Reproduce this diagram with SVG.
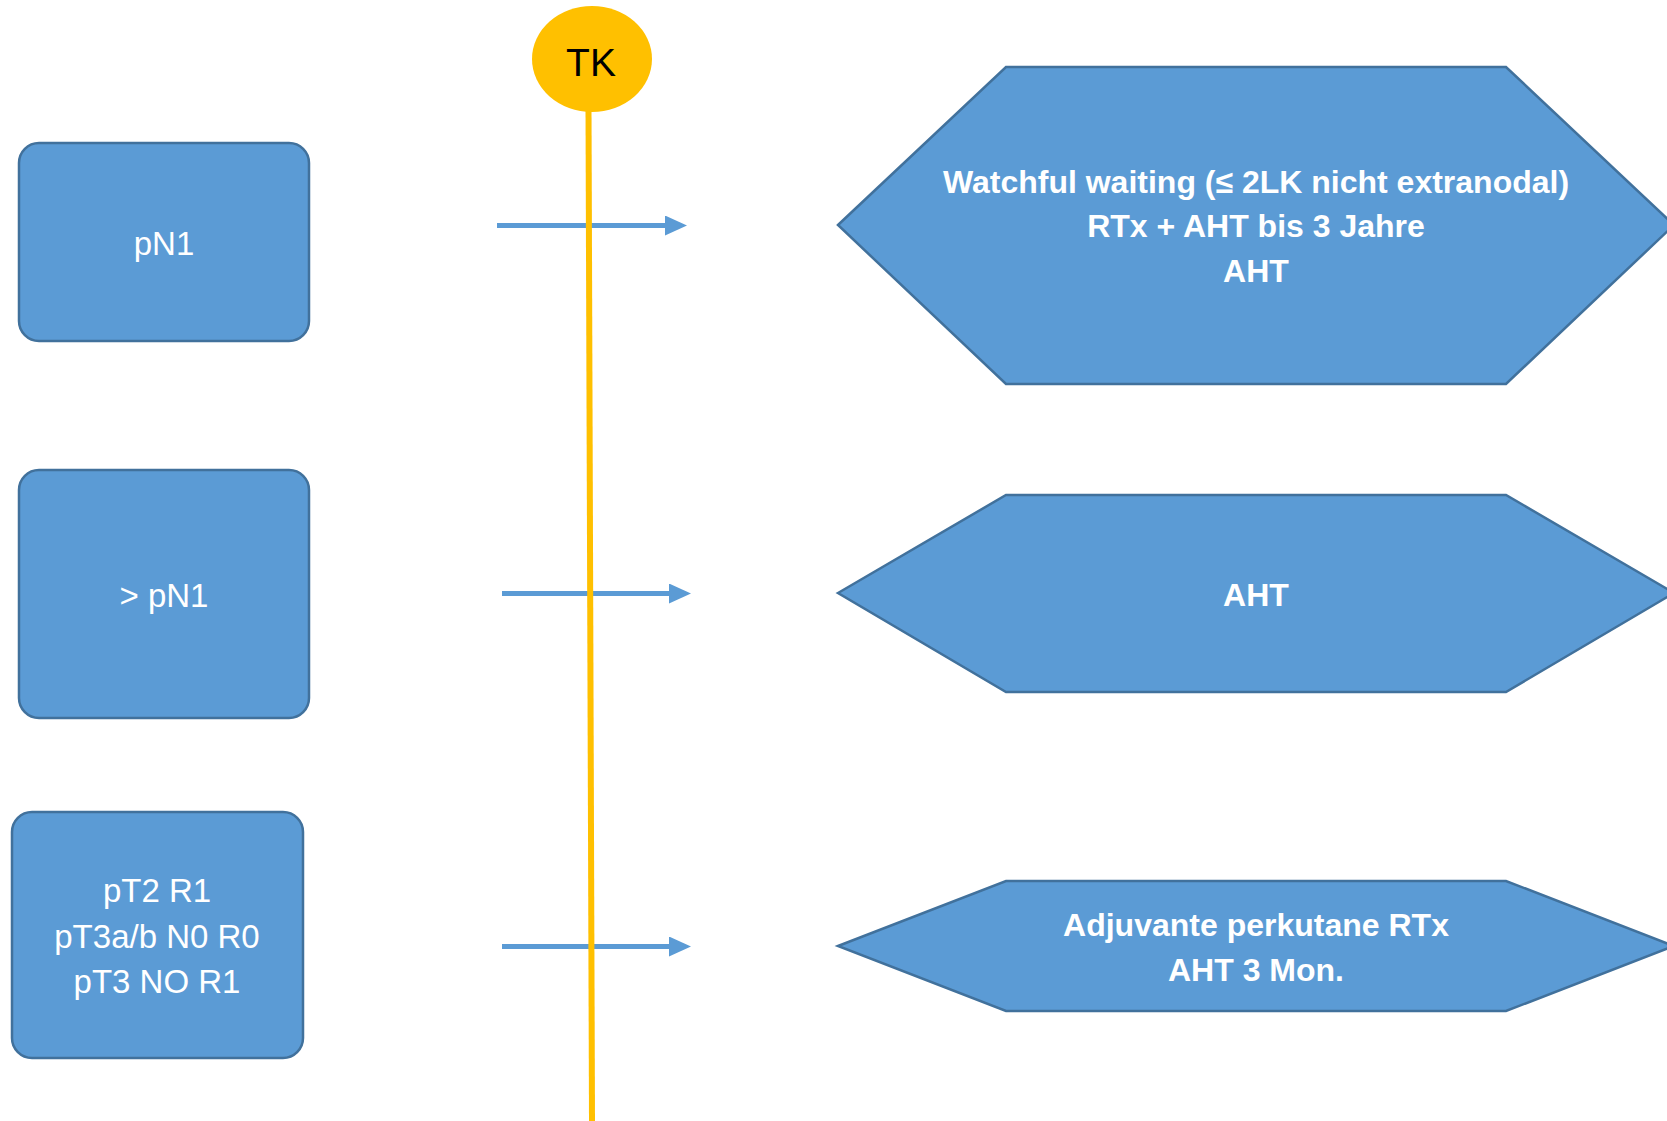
<svg xmlns="http://www.w3.org/2000/svg" width="1667" height="1121" viewBox="0 0 1667 1121">
<style>
.box{fill:#5B9BD5;stroke:#41719C;stroke-width:2.5}
.lbl{font-family:"Liberation Sans",Arial,sans-serif;fill:#FFFFFF;text-anchor:middle}
.reg{font-size:33px}
.bold{font-size:32px;font-weight:bold}
.arrow{stroke:#5B9BD5;stroke-width:5;fill:none}
</style>
<defs>
<marker id="ah" markerUnits="userSpaceOnUse" markerWidth="22" markerHeight="20" refX="1" refY="10" orient="auto">
<path d="M0,0 L22,10 L0,20 Z" fill="#5B9BD5"/>
</marker>
</defs>
<rect width="1667" height="1121" fill="#FFFFFF"/>
<g id="connectors">
<line class="arrow" x1="497" y1="225.5" x2="666" y2="225.5" marker-end="url(#ah)"/>
<line class="arrow" x1="502" y1="593.5" x2="670" y2="593.5" marker-end="url(#ah)"/>
<line class="arrow" x1="502" y1="946.5" x2="670" y2="946.5" marker-end="url(#ah)"/>
<line x1="588.5" y1="108" x2="592" y2="1121" stroke="#FFC000" stroke-width="6"/>
</g>
<g id="tk">
<ellipse cx="592" cy="59" rx="60" ry="53" fill="#FFC000"/>
<text x="591" y="76" font-family="'Liberation Sans',Arial,sans-serif" font-size="39" fill="#000000" text-anchor="middle">TK</text>
</g>
<g id="pN1">
<rect class="box" x="19" y="143" width="290" height="198" rx="20"/>
<text class="lbl reg" x="164" y="255">pN1</text>
</g>
<g id="gt-pN1">
<rect class="box" x="19" y="470" width="290" height="248" rx="20"/>
<text class="lbl reg" x="164" y="607">&gt; pN1</text>
</g>
<g id="pT">
<rect class="box" x="12" y="812" width="291" height="246" rx="20"/>
<text class="lbl reg" x="157" y="902">pT2 R1</text>
<text class="lbl reg" x="157" y="948">pT3a/b N0 R0</text>
<text class="lbl reg" x="157" y="993">pT3 NO R1</text>
</g>
<g id="hex1">
<polygon class="box" points="838,225 1006,67 1506,67 1674,225 1506,384 1006,384"/>
<text class="lbl bold" x="1256" y="193">Watchful waiting (≤ 2LK nicht extranodal)</text>
<text class="lbl bold" x="1256" y="237">RTx + AHT bis 3 Jahre</text>
<text class="lbl bold" x="1256" y="282">AHT</text>
</g>
<g id="hex2">
<polygon class="box" points="838,593 1006,495 1506,495 1674,593 1506,692 1006,692"/>
<text class="lbl bold" x="1256" y="606">AHT</text>
</g>
<g id="hex3">
<polygon class="box" points="838,946 1006,881 1506,881 1674,946 1506,1011 1006,1011"/>
<text class="lbl bold" x="1256" y="936">Adjuvante perkutane RTx</text>
<text class="lbl bold" x="1256" y="981">AHT 3 Mon.</text>
</g>
</svg>
